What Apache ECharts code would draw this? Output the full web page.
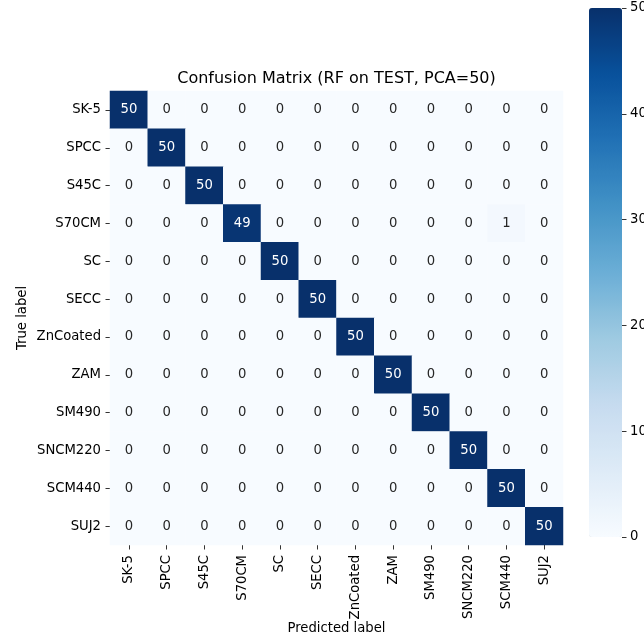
<!DOCTYPE html>
<html>
<head>
<meta charset="utf-8">
<script src="https://cdn.jsdelivr.net/npm/echarts@6/dist/echarts.min.js"></script>
<style>html,body{margin:0;padding:0;background:#fff}#c{width:644px;height:639px}</style>
</head>
<body>
<div id="c"></div>
<script>
const labels = ['SK-5','SPCC','S45C','S70CM','SC','SECC','ZnCoated','ZAM','SM490','SNCM220','SCM440','SUJ2'];
const rowSK5     = [50,0,0,0,0,0,0,0,0,0,0,0];
const rowSPCC    = [0,50,0,0,0,0,0,0,0,0,0,0];
const rowS45C    = [0,0,50,0,0,0,0,0,0,0,0,0];
const rowS70CM   = [0,0,0,49,0,0,0,0,0,0,1,0];
const rowSC      = [0,0,0,0,50,0,0,0,0,0,0,0];
const rowSECC    = [0,0,0,0,0,50,0,0,0,0,0,0];
const rowZnCoated= [0,0,0,0,0,0,50,0,0,0,0,0];
const rowZAM     = [0,0,0,0,0,0,0,50,0,0,0,0];
const rowSM490   = [0,0,0,0,0,0,0,0,50,0,0,0];
const rowSNCM220 = [0,0,0,0,0,0,0,0,0,50,0,0];
const rowSCM440  = [0,0,0,0,0,0,0,0,0,0,50,0];
const rowSUJ2    = [0,0,0,0,0,0,0,0,0,0,0,50];
const matrix = [rowSK5,rowSPCC,rowS45C,rowS70CM,rowSC,rowSECC,rowZnCoated,rowZAM,rowSM490,rowSNCM220,rowSCM440,rowSUJ2];
const colorTicks = [0,10,20,30,40,50];
const blues = ['#f7fbff','#deebf7','#c6dbef','#9ecae1','#6baed6','#4292c6','#2171b5','#08519c','#08306b'];

const FONT = 'DejaVu Sans';
const FS = 13.2;
const data = [];
matrix.forEach((row, r) => row.forEach((v, c) => {
  data.push({value: [c, r, v], label: {color: v > 25 ? '#ffffff' : '#262626'}});
}));

const chart = echarts.init(document.getElementById('c'), null, {renderer: 'canvas'});
chart.setOption({
  animation: false,
  backgroundColor: '#ffffff',
  title: {
    text: 'Confusion Matrix (RF on TEST, PCA=50)',
    left: 331.5, top: 66, textAlign: 'center',
    textStyle: {fontFamily: FONT, fontSize: 16, fontWeight: 'normal', color: '#000'}
  },
  grid: [
    {left: 110, top: 91, width: 453, height: 454, containLabel: false, outerBoundsMode: 'none'},
    {left: 589, top: 8, width: 33, height: 529, containLabel: false, outerBoundsMode: 'none'}
  ],
  xAxis: [
    {
      type: 'category', data: labels, gridIndex: 0, position: 'bottom',
      name: 'Predicted label', nameLocation: 'middle', nameGap: 77, nameMoveOverlap: false,
      nameTextStyle: {fontFamily: FONT, fontSize: FS, color: '#000'},
      axisLine: {show: false},
      axisTick: {show: true, alignWithLabel: true, length: 4.5, lineStyle: {color: '#000', width: 0.8}},
      axisLabel: {rotate: 90, margin: 10, fontFamily: FONT, fontSize: FS, color: '#000', interval: 0},
      splitLine: {show: false}, splitArea: {show: false}
    },
    {type: 'value', gridIndex: 1, show: false, min: 0, max: 1,
      axisLine: {show: false}, axisTick: {show: false}, axisLabel: {show: false}, splitLine: {show: false}}
  ],
  yAxis: [
    {
      type: 'category', data: labels, gridIndex: 0, inverse: true,
      name: 'True label', nameLocation: 'middle', nameGap: 81, nameRotate: 90, nameMoveOverlap: false,
      nameTextStyle: {fontFamily: FONT, fontSize: FS, color: '#000'},
      axisLine: {show: false},
      axisTick: {show: true, alignWithLabel: true, length: 4.5, lineStyle: {color: '#000', width: 0.8}},
      axisLabel: {margin: 9, fontFamily: FONT, fontSize: FS, color: '#000', interval: 0},
      splitLine: {show: false}, splitArea: {show: false}
    },
    {
      type: 'value', gridIndex: 1, position: 'right', min: 0, max: 50, interval: 10,
      axisLine: {show: false, onZero: false},
      axisTick: {show: true, inside: false, length: 4.5, lineStyle: {color: '#000', width: 0.8}},
      axisLabel: {margin: 8, fontFamily: FONT, fontSize: FS, color: '#000',
        customValues: colorTicks},
      splitLine: {show: false}
    }
  ],
  visualMap: {
    type: 'continuous', min: 0, max: 50, seriesIndex: 0,
    calculable: false, hoverLink: false, show: true,
    left: 589, top: 8, itemWidth: 33, itemHeight: 529, padding: 0,
    text: null, showLabel: false,
    inRange: {color: blues}
  },
  series: [
    {
      type: 'heatmap', xAxisIndex: 0, yAxisIndex: 0, data: data,
      label: {show: true, fontFamily: FONT, fontSize: FS, formatter: p => String(p.value[2])},
      itemStyle: {borderWidth: 0},
      emphasis: {disabled: true}
    },
    {type: 'scatter', xAxisIndex: 1, yAxisIndex: 1, data: [], silent: true}
  ]
});
</script>
</body>
</html>
